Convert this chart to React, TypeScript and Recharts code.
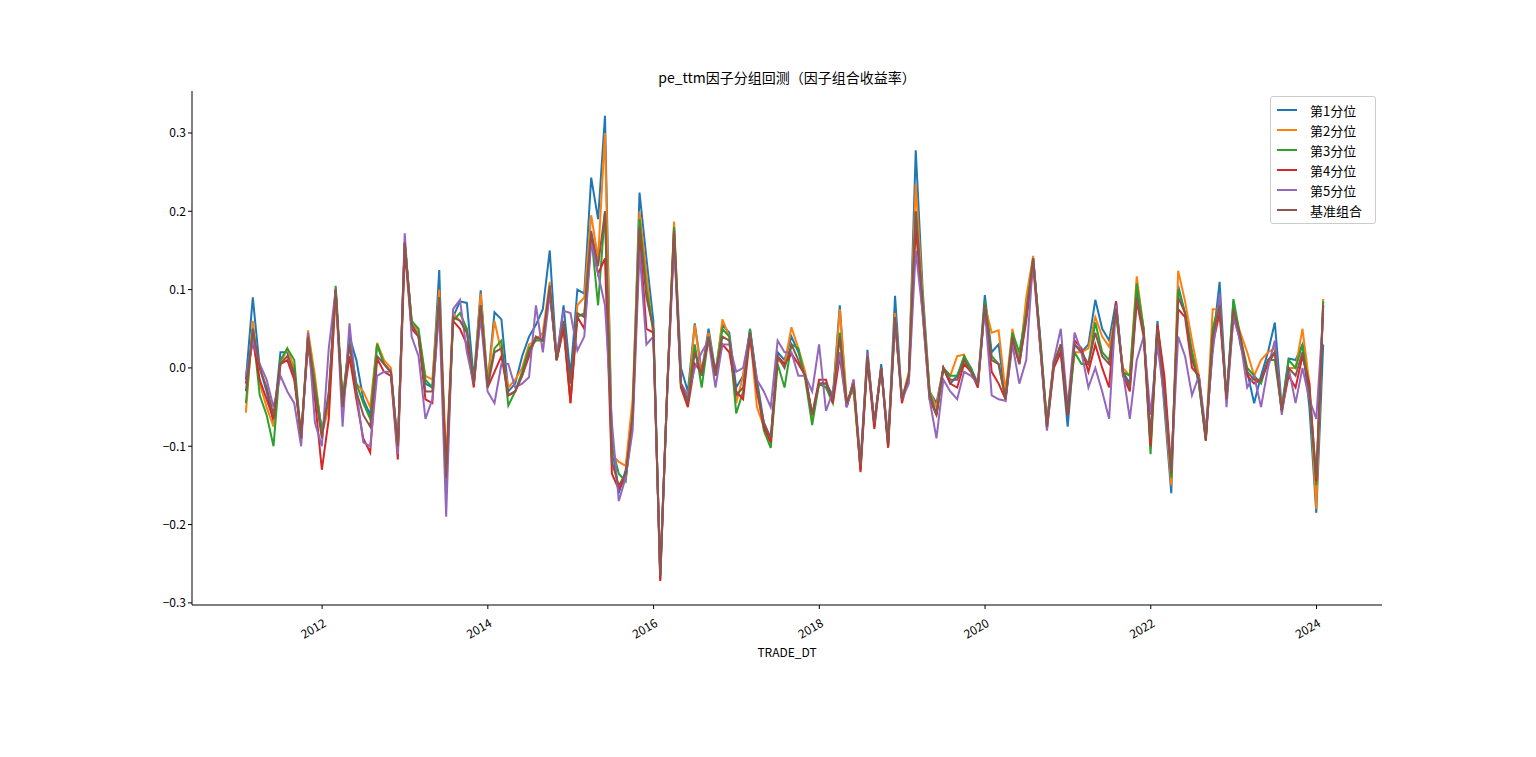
import { LineChart, Line, XAxis, YAxis } from "recharts"

const startYear = 2011
const yearTicks = [2012, 2014, 2016, 2018, 2020, 2022, 2024]
const yTicks = [-0.3, -0.2, -0.1, 0, 0.1, 0.2, 0.3]

const q1 = [
  -0.015, 0.09, 0.0, -0.03, -0.07, 0.02, 0.02, -0.01, -0.09, 0.04, -0.02, -0.08,
  -0.04, 0.1, -0.05, 0.04, 0.01, -0.04, -0.06, 0.03, 0.005, -0.005, -0.1, 0.16,
  0.06, 0.04, -0.02, -0.025, 0.125, -0.15, 0.065, 0.085, 0.083, -0.015, 0.099, -0.02,
  0.071, 0.062, -0.03, -0.02, 0.015, 0.04, 0.055, 0.075, 0.15, 0.01, 0.08, -0.01,
  0.1, 0.095, 0.243, 0.19, 0.322, -0.1, -0.16, -0.13, -0.06, 0.224, 0.14, 0.06,
  -0.27, -0.03, 0.18, 0.0, -0.03, 0.057, -0.005, 0.05, -0.005, 0.055, 0.045, -0.025,
  -0.01, 0.05, -0.015, -0.07, -0.09, 0.02, 0.01, 0.04, 0.02, -0.01, -0.06, -0.02,
  -0.02, -0.035, 0.08, -0.05, -0.02, -0.13, 0.023, -0.075, 0.005, -0.1, 0.092, -0.04,
  -0.01, 0.278, 0.1, -0.03, -0.045, 0.0, -0.02, -0.01, 0.01, 0.0, -0.02, 0.093,
  0.02, 0.03, -0.04, 0.04, 0.01, 0.08, 0.14, 0.04, -0.07, 0.01, 0.02, -0.075,
  0.03, 0.02, 0.03, 0.087, 0.05, 0.035, 0.085, -0.005, -0.02, 0.1, 0.05, -0.09,
  0.06, -0.05, -0.16, 0.105, 0.07, 0.02, -0.02, -0.09, 0.03, 0.11, -0.04, 0.085,
  0.03, -0.005, -0.045, -0.01, 0.02, 0.058, -0.05, 0.012, 0.01, 0.03, -0.05, -0.185,
  0.03,
]
const q2 = [
  -0.057, 0.06, -0.02, -0.05, -0.075, 0.005, 0.025, 0.0, -0.09, 0.048, -0.01, -0.085,
  -0.05, 0.09, -0.04, 0.03, -0.02, -0.03, -0.05, 0.032, 0.01, 0.0, -0.105, 0.16,
  0.06, 0.045, -0.01, -0.015, 0.1, -0.12, 0.07, 0.06, 0.05, -0.02, 0.095, -0.02,
  0.06, 0.02, -0.025, -0.015, 0.0, 0.03, 0.035, 0.045, 0.11, 0.01, 0.055, -0.045,
  0.08, 0.09, 0.195, 0.14, 0.3, -0.11, -0.12, -0.125, -0.04, 0.2, 0.12, 0.04,
  -0.26, -0.03, 0.187, -0.02, -0.04, 0.055, -0.01, 0.045, -0.01, 0.062, 0.04, -0.045,
  -0.01, 0.045, -0.05, -0.075, -0.095, 0.01, 0.005, 0.052, 0.025, -0.005, -0.065, -0.02,
  -0.025, -0.04, 0.075, -0.04, -0.03, -0.13, 0.015, -0.07, 0.0, -0.095, 0.07, -0.04,
  -0.005, 0.235, 0.09, -0.03, -0.05, 0.0, -0.01, 0.015, 0.017, -0.005, -0.02, 0.08,
  0.045, 0.048, -0.03, 0.05, 0.005, 0.09, 0.143, 0.03, -0.07, 0.01, 0.026, -0.05,
  0.02, 0.02, 0.025, 0.065, 0.04, 0.027, 0.07, 0.0, -0.01, 0.117, 0.05, -0.1,
  0.05, -0.04, -0.15, 0.124, 0.085, 0.035, -0.01, -0.09, 0.075, 0.075, -0.04, 0.075,
  0.045, 0.02, -0.01, 0.01, 0.02, 0.025, -0.05, 0.0, 0.0, 0.05, -0.02, -0.18,
  0.088,
]
const q3 = [
  -0.045, 0.05, -0.035, -0.06, -0.1, 0.01, 0.025, 0.01, -0.09, 0.04, -0.02, -0.08,
  -0.04, 0.105, -0.04, 0.035, -0.02, -0.045, -0.065, 0.03, 0.005, -0.005, -0.105, 0.16,
  0.06, 0.05, -0.015, -0.025, 0.09, -0.15, 0.06, 0.07, 0.05, -0.02, 0.08, -0.02,
  0.025, 0.035, -0.048, -0.03, -0.005, 0.025, 0.035, 0.035, 0.1, 0.01, 0.055, -0.04,
  0.065, 0.07, 0.17, 0.08, 0.2, -0.1, -0.135, -0.145, -0.06, 0.19, 0.1, 0.05,
  -0.265, -0.03, 0.18, -0.025, -0.04, 0.03, -0.025, 0.04, -0.01, 0.05, 0.04, -0.058,
  -0.03, 0.05, -0.02, -0.08, -0.102, 0.005, -0.025, 0.03, 0.025, -0.015, -0.073, -0.02,
  -0.025, -0.045, 0.045, -0.045, -0.025, -0.125, 0.01, -0.07, 0.0, -0.1, 0.06, -0.04,
  -0.01, 0.2, 0.08, -0.03, -0.06, 0.0, -0.01, -0.01, 0.015, 0.0, -0.025, 0.085,
  0.015, 0.005, -0.04, 0.045, 0.02, 0.07, 0.14, 0.04, -0.07, 0.005, 0.03, -0.06,
  0.02, 0.005, 0.005, 0.058, 0.02, 0.01, 0.07, -0.005, -0.01, 0.108, 0.05, -0.11,
  0.055, -0.02, -0.14, 0.1, 0.07, 0.02, -0.02, -0.093, 0.05, 0.085, -0.04, 0.088,
  0.04, 0.0, -0.01, -0.02, 0.01, 0.01, -0.055, 0.01, 0.0, 0.03, -0.03, -0.15,
  0.085,
]
const q4 = [
  -0.02, 0.035, -0.015, -0.04, -0.065, 0.005, 0.01, -0.015, -0.085, 0.03, -0.04, -0.13,
  -0.065, 0.1, -0.05, 0.015, -0.04, -0.09, -0.108, 0.012, -0.005, -0.01, -0.117, 0.15,
  0.05, 0.04, -0.04, -0.045, 0.085, -0.13, 0.06, 0.05, 0.03, -0.025, 0.075, -0.025,
  -0.005, 0.015, -0.035, -0.03, -0.01, 0.015, 0.04, 0.035, 0.1, 0.01, 0.05, -0.045,
  0.065, 0.05, 0.165, 0.12, 0.14, -0.135, -0.155, -0.14, -0.07, 0.17, 0.05, 0.045,
  -0.272, -0.03, 0.17, -0.025, -0.05, 0.005, -0.005, 0.035, -0.005, 0.03, 0.02, -0.03,
  -0.04, 0.04, -0.03, -0.075, -0.095, 0.015, 0.005, 0.018, 0.005, -0.01, -0.06, -0.015,
  -0.015, -0.045, 0.015, -0.05, -0.015, -0.133, 0.01, -0.078, 0.0, -0.102, 0.06, -0.045,
  -0.01, 0.18, 0.07, -0.04, -0.06, 0.0, -0.02, -0.025, 0.005, -0.005, -0.025, 0.08,
  -0.005, -0.02, -0.04, 0.035, 0.005, 0.06, 0.13, 0.03, -0.078, 0.0, 0.02, -0.06,
  0.035, 0.025, -0.005, 0.03, 0.0, -0.025, 0.085, -0.01, -0.03, 0.085, 0.04, -0.1,
  0.055, -0.01, -0.13, 0.075, 0.065, 0.0, -0.01, -0.093, 0.03, 0.07, -0.04, 0.065,
  0.035, -0.01, -0.02, -0.015, 0.005, 0.02, -0.055, -0.01, -0.025, 0.015, -0.02, -0.145,
  0.08,
]
const q5 = [
  -0.01, 0.035, 0.005, -0.015, -0.05, -0.01, -0.03, -0.045, -0.1, 0.045, -0.07, -0.1,
  0.025, 0.1, -0.075, 0.057, -0.03, -0.095, -0.1, -0.01, -0.005, -0.005, -0.11, 0.172,
  0.04, 0.015, -0.065, -0.04, 0.075, -0.19, 0.075, 0.087, 0.02, -0.02, 0.065, -0.03,
  -0.045, 0.005, 0.005, -0.025, -0.02, -0.012, 0.08, 0.02, 0.095, 0.015, 0.073, 0.07,
  0.022, 0.04, 0.16, 0.12, 0.08, -0.07, -0.17, -0.14, -0.08, 0.15, 0.03, 0.04,
  -0.26, -0.035, 0.16, -0.02, -0.035, 0.0, 0.02, 0.035, -0.025, 0.03, 0.03, -0.005,
  0.0, 0.045, -0.015, -0.03, -0.05, 0.035, 0.02, 0.02, -0.01, -0.01, -0.03, 0.03,
  -0.055, -0.03, 0.02, -0.05, -0.015, -0.12, 0.02, -0.07, 0.0, -0.09, 0.06, -0.04,
  -0.02, 0.15, 0.07, -0.04, -0.09, -0.015, -0.03, -0.04, -0.005, -0.01, -0.02, 0.075,
  -0.035, -0.04, -0.042, 0.03, -0.02, 0.01, 0.14, 0.03, -0.08, 0.01, 0.05, -0.05,
  0.045, 0.02, -0.025, 0.0, -0.03, -0.065, 0.08, -0.005, -0.065, 0.01, 0.04, -0.06,
  0.03, -0.04, -0.13, 0.04, 0.015, -0.035, -0.01, -0.08, 0.02, 0.095, -0.05, 0.065,
  0.035, -0.025, -0.01, -0.05, 0.0, 0.035, -0.06, 0.0, -0.045, 0.0, -0.04, -0.065,
  0.07,
]
const bench = [
  -0.03, 0.05, 0.0, -0.025, -0.06, 0.005, 0.015, -0.005, -0.09, 0.04, -0.03, -0.09,
  -0.03, 0.1, -0.05, 0.03, -0.03, -0.06, -0.075, 0.015, 0.005, -0.005, -0.1, 0.16,
  0.055, 0.04, -0.03, -0.03, 0.09, -0.14, 0.065, 0.06, 0.045, -0.02, 0.08, -0.025,
  0.02, 0.025, -0.035, -0.03, -0.01, 0.02, 0.04, 0.035, 0.105, 0.01, 0.06, -0.02,
  0.07, 0.065, 0.175, 0.13, 0.2, -0.12, -0.15, -0.135, -0.06, 0.18, 0.09, 0.05,
  -0.265, -0.03, 0.175, -0.02, -0.045, 0.02, -0.01, 0.04, -0.01, 0.04, 0.035, -0.035,
  -0.025, 0.045, -0.025, -0.07, -0.09, 0.015, 0.0, 0.03, 0.01, -0.01, -0.06, -0.02,
  -0.02, -0.04, 0.04, -0.045, -0.02, -0.125, 0.015, -0.07, 0.0, -0.095, 0.065, -0.04,
  -0.01, 0.2, 0.08, -0.035, -0.06, 0.0, -0.015, -0.015, 0.01, -0.005, -0.02, 0.08,
  0.01, 0.005, -0.04, 0.04, 0.005, 0.065, 0.14, 0.035, -0.075, 0.005, 0.03, -0.055,
  0.03, 0.02, 0.005, 0.045, 0.015, 0.005, 0.075, -0.005, -0.025, 0.09, 0.045, -0.09,
  0.05, -0.03, -0.135, 0.09, 0.07, 0.01, -0.015, -0.09, 0.04, 0.08, -0.04, 0.075,
  0.04, -0.005, -0.015, -0.015, 0.01, 0.02, -0.055, 0.0, -0.01, 0.02, -0.03, -0.14,
  0.08,
]

const series = [
  { key: "q1", name: "第1分位", color: "#1f77b4", values: q1 },
  { key: "q2", name: "第2分位", color: "#ff7f0e", values: q2 },
  { key: "q3", name: "第3分位", color: "#2ca02c", values: q3 },
  { key: "q4", name: "第4分位", color: "#d62728", values: q4 },
  { key: "q5", name: "第5分位", color: "#9467bd", values: q5 },
  { key: "bench", name: "基准组合", color: "#8c564b", values: bench },
]

// month-end positions, in fractional years
const data = q1.map((_, i) => {
  const row: Record<string, number> = { t: startYear + (i + 1) / 12 - 0.003 }
  series.forEach((s) => (row[s.key] = s.values[i]))
  return row
})

const font = "'Noto Sans CJK SC', 'DejaVu Sans', sans-serif"

function YearTick({ x, y, payload }: any) {
  return (
    <text x={x} y={y + 6} transform={`rotate(-30 ${x} ${y + 6})`} textAnchor="end" dy={10} fontSize={12} fill="#000" fontFamily={font}>
      {payload.value}
    </text>
  )
}

export default function App() {
  return (
    <div style={{ position: "absolute", left: 0, top: 0, width: 1536, height: 757, background: "#fff", fontFamily: font }}>
      <div style={{ position: "absolute", left: 192, width: 1190, top: 67, textAlign: "center", fontSize: 14 }}>
        pe_ttm因子分组回测（因子组合收益率）
      </div>
      <LineChart width={1536} height={757} data={data} margin={{ top: 91, right: 154, left: 142, bottom: 112 }}>
        <XAxis dataKey="t" type="number" domain={[2010.43, 2024.79]} ticks={yearTicks} allowDataOverflow
          tick={<YearTick />} tickSize={4} stroke="#000" height={40} />
        <XAxis xAxisId="top" orientation="top" dataKey="t" type="number" domain={[2010.43, 2024.79]} tick={false} tickLine={false} stroke="#000" height={0} />
        <YAxis type="number" domain={[-0.3027, 0.3536]} ticks={yTicks} allowDataOverflow width={50} tickSize={4} stroke="#000"
          tick={{ fill: "#000", fontSize: 12, fontFamily: font }} tickFormatter={(v: number) => (v === 0 ? "0.0" : v.toFixed(1).replace("-", "−"))} />
        <YAxis yAxisId="right" orientation="right" domain={[-0.3027, 0.3536]} tick={false} tickLine={false} stroke="#000" width={0} />
        {series.map((s) => (
          <Line key={s.key} dataKey={s.key} name={s.name} stroke={s.color} strokeWidth={2} dot={false} isAnimationActive={false} />
        ))}
      </LineChart>
      <div style={{ position: "absolute", left: 0, width: 1574, top: 643, textAlign: "center", fontSize: 12 }}>TRADE_DT</div>
      <div style={{ position: "absolute", left: 1270, top: 96, width: 104, padding: "3px 0", border: "1px solid #ccc", borderRadius: 3, background: "rgba(255,255,255,0.8)", fontSize: 13 }}>
        {series.map((s) => (
          <div key={s.key} style={{ display: "flex", alignItems: "center", height: 20 }}>
            <span style={{ display: "inline-block", width: 20, height: 2, background: s.color, margin: "0 13px 0 6px" }} />
            <span>{s.name}</span>
          </div>
        ))}
      </div>
    </div>
  )
}
